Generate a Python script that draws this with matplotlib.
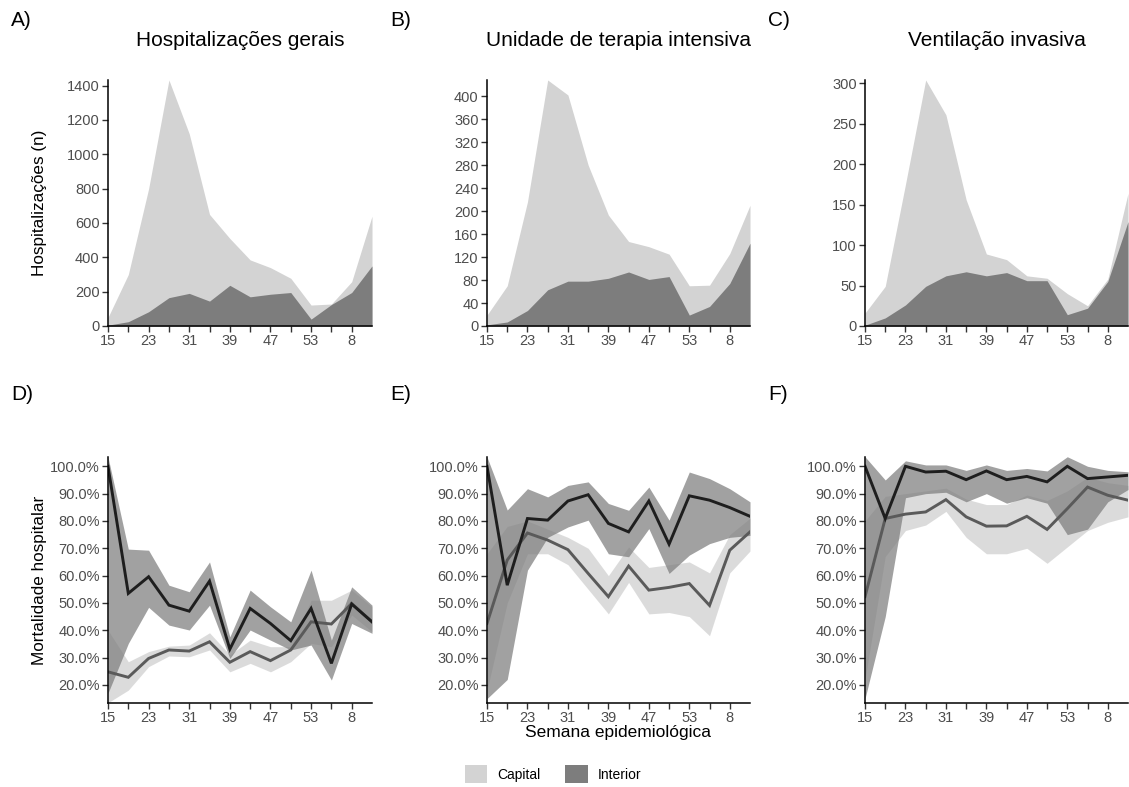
#!/usr/bin/env python3
"""
Hospitalizations and in-hospital mortality by epi week, capital vs interior
"""
import matplotlib
matplotlib.use("Agg")
import matplotlib.pyplot as plt
from matplotlib.patches import Patch
from matplotlib.ticker import FuncFormatter

plt.rcParams['font.family'] = ['Liberation Sans', 'DejaVu Sans']

# epidemiological weeks (category axis), labels shown every other tick
weeks = ["15", "19", "23", "27", "31", "35", "39", "43", "47", "51", "53", "4", "8", "12"]

# hospitalizations (n)
hosp_capital = [50, 300, 800, 1433, 1120, 650, 510, 385, 340, 278, 122, 128, 258, 640]
hosp_interior = [5, 25, 83, 165, 190, 145, 237, 170, 185, 195, 40, 125, 195, 350]
icu_capital = [19, 70, 216, 428, 402, 280, 193, 147, 138, 125, 70, 71, 126, 210]
icu_interior = [2, 7, 27, 63, 78, 78, 83, 94, 81, 86, 19, 34, 74, 144]
vent_capital = [16, 49, 175, 304, 261, 156, 89, 82, 62, 59, 40, 25, 58, 164]
vent_interior = [1, 10, 26, 49, 62, 67, 62, 66, 56, 56, 14, 22, 55, 129]

# in-hospital mortality (%), general hospitalizations
mh_capital = [24.8, 22.8, 29.7, 32.8, 32.4, 35.8, 28.3, 32.2, 28.9, 32.8, 43.1, 42.3, 49.8, 43.1]
mh_capital_lo = [13.5, 18.1, 26.7, 30.6, 30.3, 32.8, 24.8, 27.9, 24.8, 28.5, 35.2, 34.0, 45.6, 39.5]
mh_capital_hi = [40.0, 28.5, 32.2, 34.2, 34.6, 39.1, 31.0, 36.4, 34.0, 34.0, 51.0, 51.0, 54.7, 48.6]
mh_interior = [100.0, 53.5, 59.6, 49.2, 47.0, 58.0, 33.1, 48.0, 42.5, 36.2, 48.0, 27.9, 49.6, 43.1]
mh_interior_lo = [17.0, 35.2, 48.4, 41.9, 40.1, 49.2, 29.7, 40.1, 36.4, 32.8, 34.6, 21.8, 42.5, 38.9]
mh_interior_hi = [103.4, 69.7, 69.3, 56.5, 54.1, 65.0, 37.6, 54.7, 48.6, 43.1, 62.0, 36.4, 55.9, 49.2]

# in-hospital mortality (%), intensive care unit
mu_capital = [42.5, 65.7, 75.6, 73.0, 69.5, 60.8, 52.3, 63.5, 54.7, 55.7, 57.1, 49.1, 69.3, 76.0]
mu_capital_lo = [18.0, 50.0, 68.0, 68.0, 64.0, 55.0, 46.0, 57.5, 46.0, 46.5, 45.0, 38.0, 61.0, 69.0]
mu_capital_hi = [68.0, 78.0, 80.0, 77.0, 74.0, 70.0, 60.0, 70.5, 63.0, 64.0, 65.0, 61.0, 75.0, 81.0]
mu_interior = [100.0, 56.5, 80.9, 80.3, 87.3, 89.6, 79.1, 76.0, 87.3, 71.5, 89.2, 87.6, 84.9, 81.7]
mu_interior_lo = [15.0, 22.0, 62.0, 74.0, 77.8, 80.3, 68.0, 66.9, 77.2, 60.8, 67.5, 71.7, 74.0, 74.7]
mu_interior_hi = [103.4, 84.0, 91.8, 88.8, 93.0, 94.3, 86.4, 83.9, 92.4, 80.3, 97.9, 95.5, 91.8, 87.0]

# in-hospital mortality (%), invasive ventilation
mv_capital = [52.3, 80.9, 82.5, 83.3, 87.8, 81.5, 78.1, 78.2, 81.7, 76.9, 84.5, 92.4, 89.4, 87.6]
mv_capital_lo = [22.0, 67.0, 76.5, 78.5, 83.5, 74.0, 68.0, 68.0, 70.0, 64.5, 70.5, 76.5, 79.5, 81.5]
mv_capital_hi = [80.0, 89.0, 90.0, 91.0, 92.0, 88.0, 86.0, 86.0, 89.5, 87.5, 91.0, 96.0, 94.0, 93.0]
mv_interior = [100.0, 80.9, 100.0, 97.9, 98.2, 95.1, 98.3, 95.1, 96.3, 94.3, 100.0, 95.5, 96.1, 96.7]
mv_interior_lo = [15.0, 45.0, 88.5, 90.0, 90.5, 87.0, 90.0, 86.5, 88.5, 86.5, 75.0, 77.0, 87.0, 91.5]
mv_interior_hi = [103.5, 95.0, 102.0, 100.5, 100.5, 98.5, 100.5, 98.5, 99.2, 98.3, 103.5, 100.0, 98.5, 98.0]

LIGHT = "#d3d3d3"
DARK = "#7d7d7d"
TICK_GREY = "#4d4d4d"

W, H = 1129, 787
COLS_PX = [(108, 372), (487, 750), (865, 1128)]


def add_axes(fig, col, top, bottom):
    """Place an axes using pixel coordinates of the reference"""
    left, right = COLS_PX[col]
    return fig.add_axes([left / W, 1 - bottom / H, (right - left) / W, (bottom - top) / H])


def style_axes(ax):
    """Classic look: only left/bottom axis lines"""
    for side in ("top", "right"):
        ax.spines[side].set_visible(False)
    for side in ("left", "bottom"):
        ax.spines[side].set_linewidth(1.1)
        ax.spines[side].set_color("black")
    ax.tick_params(axis="both", colors="#333333", labelcolor=TICK_GREY,
                   labelsize=10.5, length=4, width=1, pad=2)
    x = list(range(len(weeks)))
    ax.set_xticks(x[:-1])
    ax.set_xticklabels([w if i % 2 == 0 else "" for i, w in enumerate(weeks[:-1])])
    ax.set_xlim(0, len(weeks) - 1)


def area_panel(ax, capital, interior):
    x = range(len(weeks))
    ax.fill_between(x, 0, capital, color=LIGHT, lw=0)
    ax.fill_between(x, 0, interior, color=DARK, lw=0)
    ax.set_ylim(0, max(capital))
    style_axes(ax)


def mort_panel(ax, cap, cap_lo, cap_hi, inte, inte_lo, inte_hi):
    x = range(len(weeks))
    ax.fill_between(x, cap_lo, cap_hi, color=LIGHT, alpha=0.8, lw=0)
    ax.fill_between(x, inte_lo, inte_hi, color=DARK, alpha=0.72, lw=0)
    ax.plot(x, cap, color="#5a5a5a", lw=2.1, solid_joinstyle="miter")
    ax.plot(x, inte, color="#1e1e1e", lw=2.1, solid_joinstyle="miter")
    ax.set_ylim(13.4, 103.4)
    ax.set_yticks(range(20, 101, 10))
    ax.yaxis.set_major_formatter(FuncFormatter(lambda v, p: f"{v:.1f}%"))
    style_axes(ax)


def main():
    fig = plt.figure(figsize=(W / 100, H / 100), dpi=100)

    top_axes = [add_axes(fig, c, 80, 326) for c in range(3)]
    bot_axes = [add_axes(fig, c, 457, 703) for c in range(3)]

    area_panel(top_axes[0], hosp_capital, hosp_interior)
    area_panel(top_axes[1], icu_capital, icu_interior)
    area_panel(top_axes[2], vent_capital, vent_interior)
    top_axes[0].set_yticks(range(0, 1401, 200))
    top_axes[1].set_yticks(range(0, 401, 40))
    top_axes[2].set_yticks(range(0, 301, 50))

    mort_panel(bot_axes[0], mh_capital, mh_capital_lo, mh_capital_hi,
               mh_interior, mh_interior_lo, mh_interior_hi)
    mort_panel(bot_axes[1], mu_capital, mu_capital_lo, mu_capital_hi,
               mu_interior, mu_interior_lo, mu_interior_hi)
    mort_panel(bot_axes[2], mv_capital, mv_capital_lo, mv_capital_hi,
               mv_interior, mv_interior_lo, mv_interior_hi)

    titles = ["Hospitalizações gerais", "Unidade de terapia intensiva", "Ventilação invasiva"]
    for c, t in enumerate(titles):
        left, right = COLS_PX[c]
        fig.text((left + right) / 2 / W, 1 - 40 / H, t, ha="center", va="center", fontsize=15)

    letter_x = [11, 390, 768]
    for c, (a, b) in enumerate(zip("ABC", "DEF")):
        fig.text(letter_x[c] / W, 1 - 21 / H, a + ")", ha="left", va="center", fontsize=15)
        fig.text(letter_x[c] / W, 1 - 395 / H, b + ")", ha="left", va="center", fontsize=15)

    fig.text(40 / W, 1 - 203 / H, "Hospitalizações (n)", rotation=90,
             ha="center", va="center", fontsize=12.3)
    fig.text(40 / W, 1 - 580 / H, "Mortalidade hospitalar", rotation=90,
             ha="center", va="center", fontsize=12.3)
    fig.text(618 / W, 1 - 733 / H, "Semana epidemiológica", ha="center", va="center", fontsize=12.5)

    handles = [Patch(facecolor=LIGHT, edgecolor="none"), Patch(facecolor=DARK, edgecolor="none")]
    fig.legend(handles, ["Capital", "Interior"], loc="center", bbox_to_anchor=(553 / W, 1 - 774 / H),
               ncol=2, frameon=False, fontsize=10, handlelength=1.6, handleheight=1.6,
               handletextpad=0.7, columnspacing=1.8, borderaxespad=0)

    fig.savefig("out.png", dpi=100)
    plt.close(fig)


if __name__ == "__main__":
    main()
